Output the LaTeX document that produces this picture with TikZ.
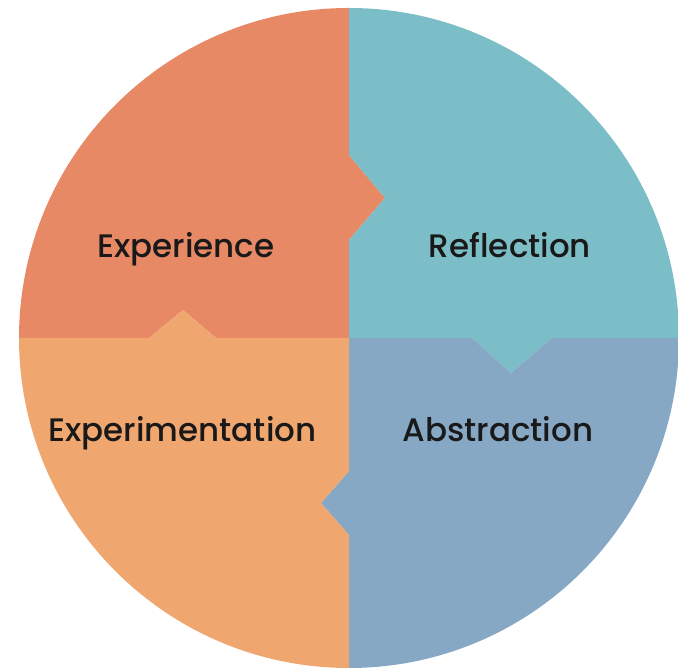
\documentclass[tikz,border=0pt]{standalone}
\usepackage{fontspec}
\newfontfamily\labelfont{Poppins Medium}
\definecolor{cExp}{RGB}{232,137,102}
\definecolor{cRef}{RGB}{124,190,199}
\definecolor{cAbs}{RGB}{134,168,197}
\definecolor{cExt}{RGB}{239,167,111}
\begin{document}
\begin{tikzpicture}[x=1pt,y=1pt,
  quad/.style={draw=none},
  lbl/.style={anchor=base,inner sep=0pt,font=\labelfont\fontsize{32.5}{38}\selectfont,text=black!90}]
\useasboundingbox (0,0) rectangle (678,668);
\begin{scope}
\clip (0,0) rectangle (678,668);
% Experience (top-left)
\fill[cExp] (19,330) arc[start angle=180,end angle=90,radius=330]
  -- (349,513) -- (385,470) -- (349,428) -- (349,330)
  -- (216,330) -- (183,358) -- (149,330) -- cycle;
% Reflection (top-right)
\fill[cRef] (349,660) arc[start angle=90,end angle=0,radius=330]
  -- (552,330) -- (511,295) -- (472,330) -- (349,330)
  -- (349,428) -- (385,470) -- (349,513) -- cycle;
% Abstraction (bottom-right)
\fill[cAbs] (679,330) arc[start angle=0,end angle=-90,radius=330]
  -- (349,133) -- (321,165) -- (349,197) -- (349,330)
  -- (472,330) -- (511,295) -- (552,330) -- cycle;
% Experimentation (bottom-left)
\fill[cExt] (349,0) arc[start angle=270,end angle=180,radius=330]
  -- (149,330) -- (183,358) -- (216,330) -- (349,330)
  -- (349,197) -- (321,165) -- (349,133) -- cycle;
\end{scope}
\node[lbl] (experience) at (186,410) {Experience};
\node[lbl] (reflection) at (510,410) {Reflection};
\node[lbl] (experimentation) at (182.5,226) {Experimentation};
\node[lbl] (abstraction) at (498,226) {Abstraction};
\end{tikzpicture}
\end{document}
